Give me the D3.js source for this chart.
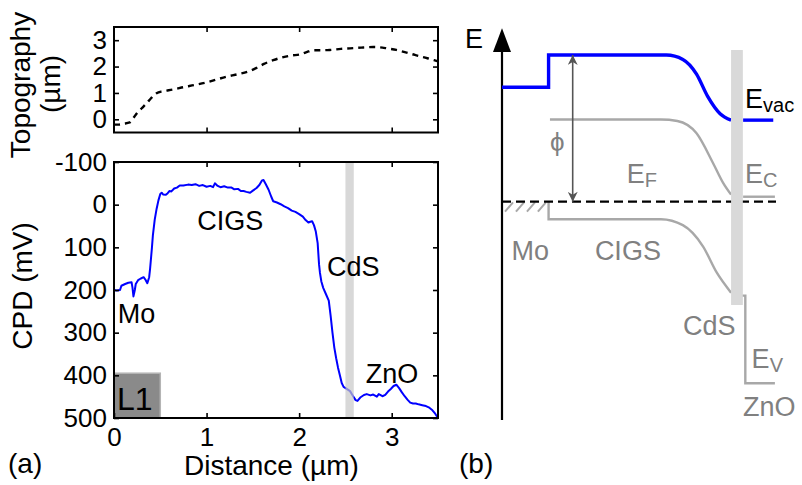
<!DOCTYPE html>
<html>
<head>
<meta charset="utf-8">
<script src="https://cdn.jsdelivr.net/npm/d3@7"></script>
<style>
  body { margin: 0; background: #fff; }
  svg { display: block; }
  text { font-family: "Liberation Sans", Arial, Helvetica, sans-serif; }
</style>
</head>
<body>
<svg id="chart" width="802" height="485"></svg>
<script>
// ---- (a) KPFM line scan L1: contact potential difference (mV) vs distance (µm)
const cpdDist = [0.00,0.03,0.065,0.08,0.12,0.155,0.19,0.20,0.21,0.225,0.235,0.26,0.29,0.32,0.34,0.36,0.38,0.39,0.41,0.42,0.44,0.46,0.48,0.50,0.515,0.53,0.56,0.58,0.60,0.62,0.65,0.68,0.71,0.75,0.80,0.84,0.88,0.92,0.96,1.00,1.04,1.07,1.09,1.12,1.15,1.19,1.23,1.27,1.30,1.34,1.37,1.40,1.43,1.47,1.50,1.54,1.57,1.60,1.615,1.64,1.67,1.70,1.72,1.76,1.80,1.84,1.88,1.92,1.96,2.00,2.04,2.07,2.10,2.12,2.14,2.16,2.18,2.20,2.215,2.225,2.24,2.26,2.29,2.32,2.34,2.36,2.38,2.40,2.42,2.44,2.46,2.48,2.51,2.55,2.58,2.61,2.63,2.66,2.70,2.73,2.77,2.80,2.84,2.86,2.90,2.93,2.96,2.99,3.02,3.05,3.08,3.11,3.14,3.17,3.20,3.23,3.26,3.29,3.33,3.37,3.40,3.44,3.47,3.50];
const cpdMv = [200,201,200,190,186,183,182,195,215,200,186,177,173,170,176,184,170,150,100,72,35,10,-10,-25,-28,-24,-23,-27,-32,-31,-38,-40,-45,-45,-47,-46,-48,-44,-46,-42,-44,-41,-50,-44,-41,-43,-40,-40,-36,-37,-32,-32,-30,-28,-33,-39,-46,-57,-58,-48,-35,-18,-8,-5,-1,4,8,14,17,22,28,36,42,40,39,48,63,90,140,160,180,195,210,225,260,300,335,360,382,400,418,427,431,437,448,458,460,452,446,444,447,445,450,444,449,446,438,432,425,422,430,440,449,457,464,466,466,468,470,472,475,482,490,500];

// Topography along the same line (µm)
const topoDist = [0.00,0.05,0.10,0.17,0.21,0.245,0.30,0.35,0.40,0.46,0.52,0.57,0.65,0.75,0.87,1.00,1.10,1.22,1.31,1.40,1.47,1.54,1.62,1.72,1.83,1.92,2.01,2.08,2.15,2.25,2.33,2.45,2.55,2.67,2.80,2.90,2.95,3.05,3.16,3.25,3.34,3.42,3.50];
const topoUm = [-0.20,-0.20,-0.17,-0.12,0.05,0.22,0.42,0.60,0.80,0.99,1.06,1.09,1.14,1.22,1.30,1.40,1.50,1.62,1.69,1.76,1.84,1.95,2.10,2.24,2.36,2.42,2.46,2.55,2.62,2.62,2.63,2.67,2.69,2.72,2.74,2.72,2.69,2.63,2.53,2.44,2.36,2.28,2.20];

const distTicks = [0, 1, 2, 3];
const cpdTicks = [-100, 0, 100, 200, 300, 400, 500];
const topoTicks = [0, 1, 2, 3];

// CdS interface marker and the L1 tag box
const interfaceDist = [2.50, 2.59];
const tagDist = [0, 0.5];
const tagMv = [395, 500];

// Layer names along the scan
const layerNames = ["Mo", "CIGS", "CdS", "ZnO"];
const layerDist = [0.04, 0.90, 2.30, 2.72];
const layerMv = [277, 59, 167, 418];

// ---- (b) schematic band diagram (position in a.u., energy in a.u., E_F = 0)
const evacStep = [[0, 3.9], [17, 3.9], [17, 5.0], [60, 5.0]];
const evacBend = [[50, 5.0], [60, 5.0], [66, 4.85], [71, 4.35], [75, 3.6], [79.6, 3.0], [83.6, 2.78]];
const evacRight = [[88, 2.78], [99, 2.78]];
const ecBend = [[17.5, 2.8], [58, 2.8], [64, 2.75], [71, 2.33], [77, 1.32], [80.7, 0.64], [83.6, 0.24]];
const ecRight = [[88, 0.17], [99.6, 0.17]];
const evStep = [[17, 0], [17, -0.6]];
const evBend = [[17, -0.6], [58, -0.6], [66, -0.8], [73.4, -1.53], [78.4, -2.42], [83.6, -3.1]];
const evRight = [[87.6, -3.2], [88.8, -3.2], [88.8, -6.19], [99.6, -6.19]];
const fermi = [[0, 0], [100, 0]];
const bandInterface = [83.6, 87.9];
const bandInterfaceE = [-3.52, 5.17];
const workFnPos = 25.8;
const workFnE = [0, 5.0];
const hatchPos = [1.1, 5.1, 9.1, 13.1];

const svg = d3.select("#chart");
const font = "\"Liberation Sans\", Arial, Helvetica, sans-serif";
const plain = d => String(d);   // ASCII hyphen for negative ticks

// ---------- scales for (a)
const x = d3.scaleLinear().domain([0, 3.5]).range([114, 438]);
const yCpd = d3.scaleLinear().domain([-100, 500]).range([162, 418]);
const yTopo = d3.scaleLinear().domain([-0.5, 3.5]).range([132.5, 27]);

function frame(g, y0, y1) {
  g.append("rect")
    .attr("x", x.range()[0]).attr("y", y0)
    .attr("width", x.range()[1] - x.range()[0]).attr("height", y1 - y0)
    .attr("fill", "none").attr("stroke", "#000").attr("stroke-width", 2);
}

function styleAxis(g, size) {
  g.select(".domain").remove();
  g.selectAll(".tick line").attr("stroke", "#000").attr("stroke-width", 1.6);
  g.selectAll(".tick text").attr("font-size", size).attr("font-family", font).attr("fill", "#000");
}

// ---- topography panel
const gTop = svg.append("g");
gTop.append("path")
  .datum(d3.zip(topoDist, topoUm))
  .attr("fill", "none").attr("stroke", "#000").attr("stroke-width", 2.4)
  .attr("stroke-dasharray", "6,5")
  .attr("d", d3.line().x(d => x(d[0])).y(d => yTopo(d[1])).curve(d3.curveMonotoneX));

gTop.append("g").attr("transform", `translate(${x(0)},0)`)
  .call(d3.axisLeft(yTopo).tickValues(topoTicks).tickFormat(plain).tickSize(-5).tickPadding(7))
  .call(g => styleAxis(g, 26));
gTop.append("g").attr("transform", `translate(${x(3.5)},0)`)
  .call(d3.axisRight(yTopo).tickValues(topoTicks).tickFormat("").tickSize(-5))
  .call(g => styleAxis(g, 26));
gTop.append("g").attr("transform", `translate(0,${yTopo(-0.5)})`)
  .call(d3.axisBottom(x).tickValues(distTicks.slice(1)).tickFormat("").tickSize(-5))
  .call(g => styleAxis(g, 26));
gTop.append("g").attr("transform", `translate(0,${yTopo(3.5)})`)
  .call(d3.axisTop(x).tickValues(distTicks.slice(1)).tickFormat("").tickSize(-5))
  .call(g => styleAxis(g, 26));
frame(gTop, yTopo(3.5), yTopo(-0.5));

gTop.append("text")
  .attr("transform", "translate(30,85) rotate(-90)")
  .attr("text-anchor", "middle").attr("font-size", 28).text("Topography");
gTop.append("text")
  .attr("transform", "translate(60,84) rotate(-90)")
  .attr("text-anchor", "middle").attr("font-size", 28).text("(µm)");

// ---- CPD panel
const gBot = svg.append("g");

gBot.append("rect")
  .attr("x", x(tagDist[0])).attr("y", yCpd(tagMv[0]))
  .attr("width", x(tagDist[1]) - x(tagDist[0])).attr("height", yCpd(tagMv[1]) - yCpd(tagMv[0]))
  .attr("fill", "#8a8a8a").attr("stroke", "#b4b4b4").attr("stroke-width", 1.5);
gBot.append("text")
  .attr("x", x(tagDist[0]) + 3).attr("y", 410)
  .attr("font-size", 32).attr("fill", "#000").text("L1");

gBot.append("path")
  .datum(d3.zip(cpdDist, cpdMv))
  .attr("fill", "none").attr("stroke", "#0000ff").attr("stroke-width", 2)
  .attr("stroke-linejoin", "round")
  .attr("d", d3.line().x(d => x(d[0])).y(d => yCpd(d[1])));

gBot.append("rect")
  .attr("x", x(interfaceDist[0])).attr("y", yCpd(-100))
  .attr("width", x(interfaceDist[1]) - x(interfaceDist[0]))
  .attr("height", yCpd(500) - yCpd(-100))
  .attr("fill", "#c8c8c8").attr("opacity", 0.7);

gBot.selectAll("text.layer")
  .data(layerNames).join("text").attr("class", "layer")
  .attr("x", (d, i) => x(layerDist[i]))
  .attr("y", (d, i) => yCpd(layerMv[i]))
  .attr("font-size", 27).attr("fill", "#000").text(d => d);

gBot.append("g").attr("transform", `translate(${x(0)},0)`)
  .call(d3.axisLeft(yCpd).tickValues(cpdTicks).tickFormat(plain).tickSize(-5).tickPadding(7))
  .call(g => styleAxis(g, 26));
gBot.append("g").attr("transform", `translate(${x(3.5)},0)`)
  .call(d3.axisRight(yCpd).tickValues(cpdTicks).tickFormat("").tickSize(-5))
  .call(g => styleAxis(g, 26));
gBot.append("g").attr("transform", `translate(0,${yCpd(500)})`)
  .call(d3.axisBottom(x).tickValues(distTicks).tickFormat(plain).tickSize(-5).tickPadding(10))
  .call(g => styleAxis(g, 26));
gBot.append("g").attr("transform", `translate(0,${yCpd(-100)})`)
  .call(d3.axisTop(x).tickValues(distTicks.slice(1)).tickFormat("").tickSize(-5))
  .call(g => styleAxis(g, 26));
frame(gBot, yCpd(-100), yCpd(500));

gBot.append("text")
  .attr("transform", "translate(32,286) rotate(-90)")
  .attr("text-anchor", "middle").attr("font-size", 28).text("CPD (mV)");
svg.append("text")
  .attr("x", x(1.7)).attr("y", 475)
  .attr("text-anchor", "middle").attr("font-size", 28).text("Distance (µm)");
svg.append("text").attr("x", 8).attr("y", 473).attr("font-size", 28).text("(a)");

// ---------- (b) band diagram
const xb = d3.scaleLinear().domain([0, 100]).range([502, 776]);
const yb = d3.scaleLinear().domain([0, 5]).range([201.7, 55]);
const gB = svg.append("g");
const lin = d3.line().x(d => xb(d[0])).y(d => yb(d[1]));
const mono = d3.line().x(d => xb(d[0])).y(d => yb(d[1])).curve(d3.curveMonotoneX);
const joined = (a, b) => lin(a) + mono(b).replace(/^M/, "L");

const grayLine = "#a8a8a8";
const grayText = "#808080";

// energy axis with arrow head
gB.append("line")
  .attr("x1", xb(0)).attr("x2", xb(0)).attr("y1", yb(-7.44)).attr("y2", yb(5.3))
  .attr("stroke", "#000").attr("stroke-width", 2.2);
gB.append("path")
  .attr("d", d3.line()([[xb(0), yb(5.91)], [xb(0) - 9, yb(5.1)], [xb(0) + 9, yb(5.1)]]) + "Z")
  .attr("fill", "#000");
gB.append("text").attr("x", 465).attr("y", 48).attr("font-size", 27).text("E");

// Mo metal hatch below E_F
gB.selectAll("line.hatch").data(hatchPos).join("line").attr("class", "hatch")
  .attr("x1", d => xb(d)).attr("y1", yb(-0.34))
  .attr("x2", d => xb(d) + 8).attr("y2", yb(-0.02))
  .attr("stroke", grayLine).attr("stroke-width", 2);

// conduction and valence bands
gB.append("path").attr("d", mono(ecBend))
  .attr("fill", "none").attr("stroke", grayLine).attr("stroke-width", 2.4);
gB.append("path").attr("d", lin(ecRight))
  .attr("fill", "none").attr("stroke", grayLine).attr("stroke-width", 2.4);
gB.append("path").attr("d", joined(evStep, evBend))
  .attr("fill", "none").attr("stroke", grayLine).attr("stroke-width", 2.4);
gB.append("path").attr("d", lin(evRight))
  .attr("fill", "none").attr("stroke", grayLine).attr("stroke-width", 2.4);

// Fermi level
gB.append("path").attr("d", lin(fermi))
  .attr("fill", "none").attr("stroke", "#000").attr("stroke-width", 2.2)
  .attr("stroke-dasharray", "9,5");

// vacuum level
gB.append("path").attr("d", joined(evacStep, evacBend))
  .attr("fill", "none").attr("stroke", "#0000ff").attr("stroke-width", 3.4)
  .attr("stroke-linejoin", "miter");
gB.append("path").attr("d", lin(evacRight))
  .attr("fill", "none").attr("stroke", "#0000ff").attr("stroke-width", 3.4);

// CdS interface strip
gB.append("rect")
  .attr("x", xb(bandInterface[0])).attr("y", yb(bandInterfaceE[1]))
  .attr("width", xb(bandInterface[1]) - xb(bandInterface[0]))
  .attr("height", yb(bandInterfaceE[0]) - yb(bandInterfaceE[1]))
  .attr("fill", "#d9d9d9");

// work function arrow
const defs = svg.append("defs");
defs.append("marker").attr("id", "head")
  .attr("viewBox", "0 0 10 10").attr("refX", 10).attr("refY", 5)
  .attr("markerUnits", "userSpaceOnUse").attr("markerWidth", 15).attr("markerHeight", 10)
  .attr("orient", "auto-start-reverse")
  .append("path").attr("d", "M0,0 L10,5 L0,10 L3,5 Z").attr("fill", "#555");
gB.append("line")
  .attr("x1", xb(workFnPos)).attr("x2", xb(workFnPos))
  .attr("y1", yb(workFnE[1])).attr("y2", yb(workFnE[0]))
  .attr("stroke", "#555").attr("stroke-width", 1.6)
  .attr("marker-start", "url(#head)").attr("marker-end", "url(#head)");
gB.append("text").attr("x", xb(17.5)).attr("y", yb(1.73))
  .attr("font-size", 26).attr("fill", grayText).text("ϕ");

// level names
function levelLabel(px, e, main, sub, color) {
  const t = gB.append("text").attr("x", xb(px)).attr("y", yb(e))
    .attr("font-size", 27).attr("fill", color);
  t.append("tspan").text(main);
  t.append("tspan").attr("font-size", 20).attr("dy", 4).text(sub);
}
levelLabel(88.7, 3.19, "E", "vac", "#000");
levelLabel(45.5, 0.63, "E", "F", grayText);
levelLabel(88.7, 0.63, "E", "C", grayText);
levelLabel(91.1, -5.68, "E", "V", grayText);

const bandLayerPos = [3.5, 33.9, 66.1, 88.0];
const bandLayerE = [-1.99, -1.99, -4.54, -7.30];
gB.selectAll("text.blayer").data(layerNames).join("text").attr("class", "blayer")
  .attr("x", (d, i) => xb(bandLayerPos[i])).attr("y", (d, i) => yb(bandLayerE[i]))
  .attr("font-size", 27).attr("fill", grayText).text(d => d);

svg.append("text").attr("x", 459).attr("y", 473).attr("font-size", 28).text("(b)");
</script>
</body>
</html>
